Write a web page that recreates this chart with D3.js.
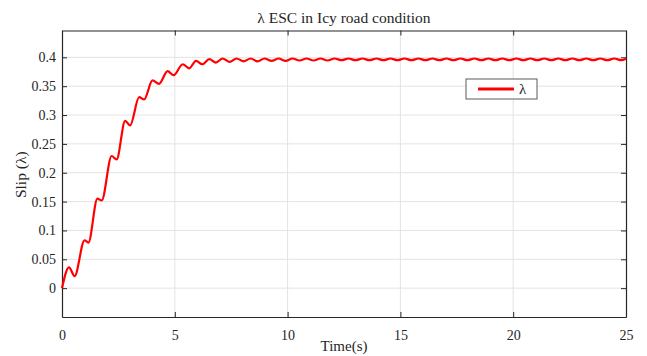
<!DOCTYPE html>
<html>
<head>
<meta charset="utf-8">
<script src="https://cdn.jsdelivr.net/npm/d3@7"></script>
<style>
  html, body { margin: 0; padding: 0; background: #fff; }
  svg { display: block; font-family: "Liberation Serif", "DejaVu Serif", serif; }
</style>
</head>
<body>
<svg id="chart" width="647" height="356"></svg>
<script>
// Wheel slip response on an icy road (peaks and troughs of the oscillating trace)
const time = [
  0, 0.31, 0.56, 1.00, 1.17, 1.57, 1.76, 2.20, 2.42, 2.80, 3.02, 3.42, 3.64,
  4.01, 4.30, 4.68, 4.95, 5.35, 5.64, 5.94, 6.22, 6.53, 6.82, 7.12,
  7.43, 7.74, 8.05, 8.36, 8.67, 8.98, 9.29, 9.60, 9.91, 10.22, 10.53, 10.84,
  11.15, 11.46, 11.77, 12.08, 12.39, 12.70, 13.01, 13.32, 13.63, 13.94, 14.25,
  14.56, 14.87, 15.18, 15.49, 15.80, 16.11, 16.42, 16.73, 17.04, 17.35, 17.66,
  17.97, 18.28, 18.59, 18.90, 19.21, 19.52, 19.83, 20.14, 20.45, 20.76, 21.07,
  21.38, 21.69, 22.00, 22.31, 22.62, 22.93, 23.24, 23.55, 23.86, 24.17, 24.48,
  24.79, 25.00
];
const slip = [
  0, 0.036, 0.021, 0.083, 0.079, 0.155, 0.152, 0.229, 0.223, 0.290, 0.282, 0.331, 0.327,
  0.360, 0.354, 0.376, 0.369, 0.388, 0.381, 0.394, 0.388, 0.397, 0.391, 0.398,
  0.392, 0.398, 0.393, 0.398, 0.393, 0.398, 0.394, 0.398, 0.394, 0.398, 0.3945, 0.398,
  0.3945, 0.398, 0.3945, 0.398, 0.395, 0.398, 0.395, 0.398, 0.395, 0.398, 0.395,
  0.398, 0.395, 0.398, 0.395, 0.398, 0.395, 0.398, 0.395, 0.398, 0.395, 0.398,
  0.395, 0.398, 0.395, 0.398, 0.395, 0.398, 0.395, 0.398, 0.395, 0.398, 0.395,
  0.398, 0.395, 0.398, 0.395, 0.398, 0.395, 0.398, 0.395, 0.398, 0.395, 0.398,
  0.395, 0.3975
];
const xTicks = [0, 5, 10, 15, 20, 25];
const yTicks = [0, 0.05, 0.1, 0.15, 0.2, 0.25, 0.3, 0.35, 0.4];
const titleText = "λ ESC in Icy road condition";
const xLabel = "Time(s)";
const yLabel = "Slip (λ)";
const legendLabel = "λ";

const svg = d3.select("#chart");
const plotL = 62, plotR = 626, plotT = 30.5, plotB = 317;

const x = d3.scaleLinear().domain([0, 25]).range([plotL, plotR]);
const y = d3.scaleLinear().domain([-0.05, 0.4465]).range([plotB, plotT]);

const axisColor = "#262626";
const gridColor = "#e3e3e3";

// grid
svg.append("g").selectAll("line").data(xTicks.slice(1, -1)).join("line")
  .attr("x1", d => x(d)).attr("x2", d => x(d))
  .attr("y1", plotT).attr("y2", plotB)
  .attr("stroke", gridColor).attr("stroke-width", 1);
svg.append("g").selectAll("line").data(yTicks).join("line")
  .attr("x1", plotL).attr("x2", plotR)
  .attr("y1", d => y(d)).attr("y2", d => y(d))
  .attr("stroke", gridColor).attr("stroke-width", 1);

// axes with inward ticks
const xAxis = d3.axisBottom(x).tickValues(xTicks).tickSizeInner(-5).tickSizeOuter(0).tickPadding(13).tickFormat(d3.format("d"));
const yAxis = d3.axisLeft(y).tickValues(yTicks).tickSizeInner(-5).tickSizeOuter(0).tickPadding(6).tickFormat(d => d === 0 ? "0" : String(d));
const xTop = d3.axisTop(x).tickValues(xTicks).tickSizeInner(-5).tickSizeOuter(0).tickFormat("");
const yRight = d3.axisRight(y).tickValues(yTicks).tickSizeInner(-5).tickSizeOuter(0).tickFormat("");

function style(g) {
  g.select(".domain").attr("stroke", axisColor).attr("stroke-width", 1.2);
  g.selectAll(".tick line").attr("stroke", axisColor).attr("stroke-width", 1);
  g.selectAll(".tick text").attr("fill", axisColor)
    .attr("font-family", "Liberation Serif, serif").attr("font-size", 14);
}
svg.append("g").attr("transform", `translate(0,${plotB})`).call(xAxis).call(style);
svg.append("g").attr("transform", `translate(${plotL},0)`).call(yAxis).call(style);
svg.append("g").attr("transform", `translate(0,${plotT})`).call(xTop).call(style);
svg.append("g").attr("transform", `translate(${plotR},0)`).call(yRight).call(style);

// slip trace
const pts = time.map((t, i) => [t, slip[i]]);
const line = d3.line().x(d => x(d[0])).y(d => y(d[1])).curve(d3.curveMonotoneX);
svg.append("path").datum(pts)
  .attr("d", line)
  .attr("fill", "none").attr("stroke", "#ff0000").attr("stroke-width", 2.2)
  .attr("stroke-linejoin", "round");

// title and labels
svg.append("text").attr("x", (plotL + plotR) / 2).attr("y", 23)
  .attr("text-anchor", "middle").attr("font-size", 15.5).attr("fill", axisColor)
  .text(titleText);
svg.append("text").attr("x", (plotL + plotR) / 2).attr("y", 351)
  .attr("text-anchor", "middle").attr("font-size", 15).attr("fill", axisColor)
  .text(xLabel);
svg.append("text").attr("transform", `translate(26,${(plotT + plotB) / 2 + 1}) rotate(-90)`)
  .attr("text-anchor", "middle").attr("font-size", 15.5).attr("fill", axisColor)
  .text(yLabel);

// legend
const lg = svg.append("g").attr("transform", "translate(466,79)");
lg.append("rect").attr("width", 71).attr("height", 20)
  .attr("fill", "#fff").attr("stroke", "#5a5a5a").attr("stroke-width", 1);
lg.append("line").attr("x1", 12).attr("x2", 48).attr("y1", 10).attr("y2", 10)
  .attr("stroke", "#ff0000").attr("stroke-width", 3);
lg.append("text").attr("x", 53).attr("y", 15).attr("font-size", 15).attr("fill", axisColor)
  .text(legendLabel);
</script>
</body>
</html>
